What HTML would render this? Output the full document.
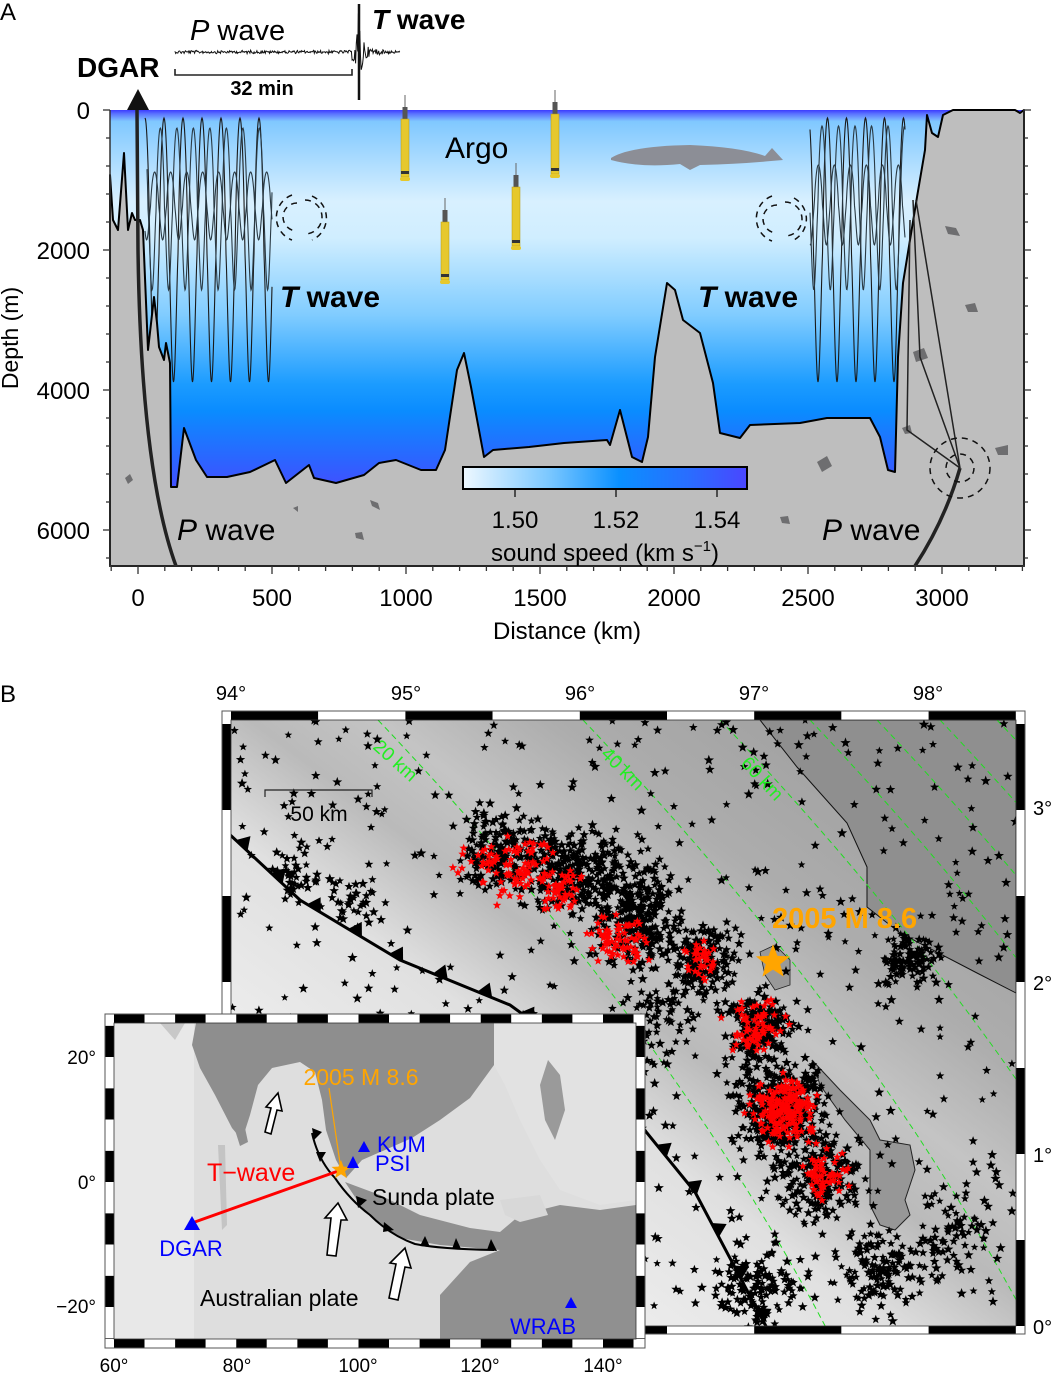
<!DOCTYPE html>
<html><head><meta charset="utf-8"><style>
html,body{margin:0;padding:0;background:#fff;}
svg{display:block;font-family:"Liberation Sans",sans-serif;}
</style></head><body>
<svg id="s" width="1052" height="1374" viewBox="0 0 1052 1374" xmlns="http://www.w3.org/2000/svg">
<defs>
<linearGradient id="wg" gradientUnits="userSpaceOnUse" x1="0" y1="110" x2="0" y2="566">
<stop offset="0" stop-color="#3b3bff"/><stop offset="0.008" stop-color="#5a70ff"/>
<stop offset="0.025" stop-color="#80c8ff"/><stop offset="0.2" stop-color="#d8f0ff"/>
<stop offset="0.28" stop-color="#d0eeff"/><stop offset="0.45" stop-color="#80ccff"/>
<stop offset="0.6" stop-color="#1c9cff"/><stop offset="0.66" stop-color="#0a8cff"/>
<stop offset="0.78" stop-color="#3060ff"/><stop offset="0.85" stop-color="#4a48ff"/>
<stop offset="1" stop-color="#4a48ff"/></linearGradient>
<linearGradient id="cb" x1="0" x2="1" y1="0" y2="0">
<stop offset="0" stop-color="#eef8ff"/><stop offset="0.3" stop-color="#7cc8ff"/>
<stop offset="0.55" stop-color="#0a90ff"/><stop offset="0.8" stop-color="#2a6cff"/>
<stop offset="1" stop-color="#4a46ff"/></linearGradient>
<linearGradient id="mg" gradientUnits="userSpaceOnUse" x1="310" y1="1080" x2="670" y2="600">
<stop offset="0" stop-color="#ececec"/><stop offset="0.25" stop-color="#e0e0e0"/>
<stop offset="0.42" stop-color="#bababa"/><stop offset="0.55" stop-color="#c4c4c4"/>
<stop offset="0.72" stop-color="#adadad"/><stop offset="1" stop-color="#a0a0a0"/></linearGradient>
<clipPath id="mc"><rect x="231" y="720" width="785" height="606"/></clipPath>
<clipPath id="ic"><rect x="114" y="1023" width="522" height="316"/></clipPath>
</defs>

<!-- PANEL A -->
<text x="0" y="20" font-size="24">A</text>
<rect x="110" y="110" width="914" height="456" fill="url(#wg)"/>
<g id="rays" fill="none" stroke="#1a1a1a" stroke-width="1.1"></g>
<path d="M110,566 L110,175 L113,220 L118,230 L124,153 L128,230 L132,213 L135,220 L140,220 L143,230 L148,350 L154,297 L157,323 L159,347 L164,360 L166,343 L170,363 L171,487 L177,487 L184,428 L196,460 L207,477 L227,477 L250,472 L275,460 L286,483 L309,465 L314,478 L336,483 L364,475 L379,463 L396,460 L421,470 L436,470 L445,450 L457,370 L464,353 L471,387 L484,457 L493,450 L529,447 L564,443 L607,440 L610,445 L620,410 L632,457 L642,462 L648,437 L655,357 L667,283 L675,290 L683,320 L700,333 L713,383 L720,433 L740,438 L750,425 L800,423 L827,418 L870,418 L880,437 L888,470 L895,472 L898,357 L903,283 L910,240 L917,197 L925,150 L927,115 L932,133 L938,137 L943,115 L953,110 L1015,110 L1020,113 L1024,110 L1024,566 Z" fill="#bebebe" stroke="#000" stroke-width="2" stroke-linejoin="round"/>
<g fill="#6e6e70">
<polygon points="125,478 130,474 133,480 128,484"/><polygon points="355,533 362,532 364,540 356,538"/>
<polygon points="370,500 378,503 380,510 372,506"/><polygon points="293,508 298,506 298,512"/>
<polygon points="945,226 956,228 960,236 948,234"/><polygon points="965,305 975,303 978,312 968,312"/>
<polygon points="913,352 924,348 928,358 916,362"/>
<polygon points="817,462 827,456 832,466 822,472"/><polygon points="995,448 1008,445 1008,455 998,455"/>
<polygon points="780,517 788,516 790,524 782,523"/><polygon points="902,428 910,425 912,433 905,434"/>
</g>
<path d="M137,110 L138,250 Q141,470 176,566" fill="none" stroke="#222" stroke-width="3.5"/>
<path d="M915,566 Q945,520 960,468" fill="none" stroke="#222" stroke-width="3.5"/>
<g fill="none" stroke="#222" stroke-width="1.5">
<path d="M960,468 L920,357 L913,200"/><path d="M960,468 L907,430 L910,220"/><path d="M960,468 L916,200"/>
</g>
<g fill="none" stroke="#111" stroke-width="1.5" stroke-dasharray="6,5">
<circle cx="960" cy="468" r="14"/><circle cx="960" cy="468" r="30"/>
<path d="M297,203 A14,14 0 0,0 297,231"/><path d="M305,200 A17,17 0 0,1 305,234"/>
<path d="M292,195 A24,24 0 0,0 292,240"/><path d="M312,196 A24,24 0 0,1 312,240"/>
<path d="M777,205 A14,14 0 0,0 777,233"/><path d="M785,202 A17,17 0 0,1 785,236"/>
<path d="M772,196 A24,24 0 0,0 772,241"/><path d="M794,198 A24,24 0 0,1 794,240"/>
</g>
<g stroke="#333" stroke-width="1.5" fill="none">
<line x1="110" y1="110" x2="110" y2="567"/><line x1="1024" y1="110" x2="1024" y2="567"/>
<line x1="109" y1="566" x2="1025" y2="566"/>
</g>
<g id="ticks" stroke="#333" stroke-width="1.3"></g>
<g font-size="24" text-anchor="end">
<text x="90" y="119">0</text><text x="90" y="259">2000</text><text x="90" y="399">4000</text><text x="90" y="539">6000</text>
</g>
<text transform="translate(18,338) rotate(-90)" font-size="23" text-anchor="middle">Depth (m)</text>
<g font-size="24" text-anchor="middle">
<text x="138" y="606">0</text><text x="272" y="606">500</text><text x="406" y="606">1000</text><text x="540" y="606">1500</text>
<text x="674" y="606">2000</text><text x="808" y="606">2500</text><text x="942" y="606">3000</text>
</g>
<text x="567" y="639" font-size="24" text-anchor="middle">Distance (km)</text>
<rect x="463" y="467" width="284" height="22" fill="url(#cb)" stroke="#000" stroke-width="2"/>
<g stroke="#000" stroke-width="1.2"><line x1="515" y1="490" x2="515" y2="497"/><line x1="616" y1="490" x2="616" y2="497"/><line x1="717" y1="490" x2="717" y2="497"/></g>
<g font-size="24" text-anchor="middle"><text x="515" y="528">1.50</text><text x="616" y="528">1.52</text><text x="717" y="528">1.54</text></g>
<text x="605" y="561" font-size="24" text-anchor="middle">sound speed (km s<tspan font-size="15" dy="-10">−1</tspan><tspan dy="10">)</tspan></text>
<g font-size="30">
<text x="177" y="540"><tspan font-style="italic">P</tspan> wave</text>
<text x="822" y="540"><tspan font-style="italic">P</tspan> wave</text>
<text x="280" y="307" font-weight="bold"><tspan font-style="italic">T</tspan> wave</text>
<text x="698" y="307" font-weight="bold"><tspan font-style="italic">T</tspan> wave</text>
</g>
<text x="445" y="158" font-size="30">Argo</text>
<path d="M611,158 Q630,146 690,145 Q740,147 765,156 L772,148 L783,160 L771,161 Q740,164 700,165 L690,170 L680,164 Q640,168 611,160 Z" fill="#8c8e96"/>
<g id="argo"></g>
<text x="190" y="40" font-size="29"><tspan font-style="italic">P</tspan> wave</text>
<text x="372" y="29" font-size="28" font-weight="bold"><tspan font-style="italic">T</tspan> wave</text>
<text x="77" y="77" font-size="28" font-weight="bold">DGAR</text>
<path id="seis" fill="none" stroke="#111" stroke-width="1"/>
<path d="M175,69 L175,75 L352,75 L352,69" fill="none" stroke="#222" stroke-width="1.6"/>
<text x="262" y="95" font-size="20" font-weight="bold" text-anchor="middle">32 min</text>
<polygon points="138,89 127,110 149,110" fill="#111"/>

<!-- PANEL B -->
<text x="0" y="702" font-size="24">B</text>
<rect x="222" y="711" width="803" height="623" fill="#fff" stroke="#777" stroke-width="1"/>
<rect x="231" y="720" width="785" height="606" fill="url(#mg)"/>
<g clip-path="url(#mc)">
<path d="M760,720 L797,767 L847,823 L867,867 L867,907 L900,933 L977,973 L1016,993 L1016,720 Z" fill="#8f8f8f" stroke="#111" stroke-width="1"/>
<path d="M812,1060 L840,1090 L870,1120 L880,1140 L910,1145 L915,1170 L905,1200 L910,1215 L895,1230 L880,1225 L870,1205 L870,1150 L845,1120 L820,1085 Z" fill="#979797" stroke="#222" stroke-width="1"/>
<path d="M760,952 L775,945 L790,960 L790,985 L775,990 L765,975 Z" fill="#999" stroke="#222" stroke-width="0.8"/>
<g id="contours" fill="none" stroke="#22dd22" stroke-width="1" stroke-dasharray="6,4"></g>
<path id="trench" d="M227,832 L300,900 L400,960 L510,1005 L600,1070 L647,1133 L695,1192 L768,1330" fill="none" stroke="#000" stroke-width="3"/>
<g id="teeth" fill="#000"></g>
<g id="stars"></g>
</g>
<g fill="#22ee22" font-size="19">
<text transform="translate(372,748) rotate(42)">20 km</text>
<text transform="translate(600,755) rotate(45)">40 km</text>
<text transform="translate(740,764) rotate(47)">60 km</text>
</g>
<path d="M265,797 L265,790 L372,790 L372,797" fill="none" stroke="#222" stroke-width="1.2"/>
<text x="319" y="821" font-size="21" text-anchor="middle">50 km</text>
<polygon id="bigstar" fill="#ffa500"/>
<text x="772" y="928" font-size="29" font-weight="bold" fill="#ffa500">2005 M 8.6</text>
<g id="mframe"></g>
<g font-size="20" text-anchor="middle">
<text x="231" y="700">94°</text><text x="406" y="700">95°</text><text x="580" y="700">96°</text><text x="754" y="700">97°</text><text x="928" y="700">98°</text>
</g>
<g font-size="20">
<text x="1033" y="815">3°</text><text x="1033" y="990">2°</text><text x="1033" y="1162">1°</text><text x="1033" y="1334">0°</text>
</g>

<!-- INSET -->
<rect x="105" y="1014" width="540" height="334" fill="#fff" stroke="#666" stroke-width="1"/>
<g clip-path="url(#ic)">
<rect x="114" y="1023" width="522" height="316" fill="#dedede"/>
<rect x="114" y="1023" width="80" height="316" fill="#e8e8e8"/>
<path d="M150,1023 L196,1023 L192,1045 L200,1068 L215,1095 L232,1128 L242,1140 L250,1115 L258,1085 L272,1068 L300,1062 L315,1072 L322,1100 L326,1130 L336,1160 L346,1178 L362,1160 L385,1150 L412,1138 L440,1120 L470,1098 L494,1065 L494,1023 Z" fill="#8e8e8e"/>
<path d="M160,1023 L185,1023 L175,1040 Z" fill="#c8c8c8"/>
<path d="M235,1130 L245,1128 L248,1142 L240,1146 Z" fill="#8e8e8e"/>
<path d="M494,1023 L636,1023 L636,1200 L600,1205 L560,1190 L540,1160 L520,1120 L505,1085 L494,1065 Z" fill="#e2e2e2"/>
<path d="M548,1060 L560,1075 L565,1110 L555,1140 L545,1120 L540,1085 Z" fill="#9a9a9a"/>
<path d="M345,1182 L380,1195 L420,1215 L470,1228 L500,1232 L520,1215 L560,1205 L600,1210 L636,1205 L636,1339 L440,1339 L440,1295 L470,1262 L500,1250 L440,1245 L400,1238 L365,1212 Z" fill="#909090"/>
<path d="M500,1200 L540,1195 L548,1215 L520,1222 L505,1215 Z" fill="#d8d8d8"/>
<path d="M218,1145 L225,1145 L227,1225 L222,1230 Z" fill="#c4c4c4"/>
</g>
<g id="iframe"></g>
<path d="M312,1133 Q318,1160 335,1178 Q350,1200 370,1215 Q390,1235 415,1244 Q440,1249 494,1250" fill="none" stroke="#000" stroke-width="2"/>
<g fill="#000">
<polygon points="312,1128 322,1132 314,1140"/><polygon points="316,1152 326,1152 320,1162"/>
<polygon points="356,1196 367,1200 358,1208"/><polygon points="384,1222 394,1230 383,1232"/>
<polygon points="420,1246 425,1236 430,1247"/><polygon points="452,1249 456,1238 461,1249"/>
<polygon points="487,1250 491,1239 497,1251"/>
</g>
<line x1="329" y1="1088" x2="341" y2="1170" stroke="#ffa500" stroke-width="1.2"/>
<line x1="192" y1="1223" x2="341" y2="1170" stroke="#ff0000" stroke-width="3"/>
<polygon id="istar" fill="#ffa500"/>
<g fill="none" stroke="#000" stroke-width="1.6">
<path d="M265,1132 L271,1108 L266,1107 L278,1093 L282,1111 L277,1110 L271,1134 Z" fill="#fff"/>
<path d="M327,1255 L331,1218 L325,1218 L338,1203 L347,1220 L341,1220 L336,1256 Z" fill="#fff"/>
<path d="M389,1298 L396,1264 L390,1263 L405,1248 L411,1268 L405,1267 L398,1300 Z" fill="#fff"/>
</g>
<g fill="#0000ff">
<polygon points="192,1216 184,1230 200,1230"/><polygon points="364,1141 358,1152 370,1152"/>
<polygon points="353,1156 347,1168 359,1168"/><polygon points="571,1297 565,1308 577,1308"/>
</g>
<g font-size="22" fill="#0000ff">
<text x="377" y="1152">KUM</text><text x="375" y="1171">PSI</text>
<text x="191" y="1256" text-anchor="middle">DGAR</text><text x="543" y="1334" text-anchor="middle">WRAB</text>
</g>
<text x="361" y="1085" font-size="23" fill="#ffa500" text-anchor="middle">2005 M 8.6</text>
<text x="207" y="1181" font-size="25" fill="#ff0000">T−wave</text>
<text x="372" y="1205" font-size="23">Sunda plate</text>
<text x="200" y="1306" font-size="23">Australian plate</text>
<g font-size="19" text-anchor="middle">
<text x="114" y="1372">60°</text><text x="237" y="1372">80°</text><text x="358" y="1372">100°</text><text x="480" y="1372">120°</text><text x="603" y="1372">140°</text>
</g>
<g font-size="19" text-anchor="end">
<text x="96" y="1064">20°</text><text x="96" y="1189">0°</text><text x="96" y="1313">−20°</text>
</g>
</svg>
<script>
(function(){
var NS="http://www.w3.org/2000/svg";
function el(t,a,p){var e=document.createElementNS(NS,t);for(var k in a)e.setAttribute(k,a[k]);(p||document.getElementById('s')).appendChild(e);return e;}
var seed=12345;function rnd(){seed=(seed*1103515245+12345)%2147483648;return seed/2147483648;}
function gauss(){return (rnd()+rnd()+rnd()+rnd()-2)/1.15;}
function starPts(cx,cy,r){var s="";for(var i=0;i<10;i++){var a=-Math.PI/2+i*Math.PI/5;var rr=i%2?r*0.42:r;s+=(cx+rr*Math.cos(a)).toFixed(1)+","+(cy+rr*Math.sin(a)).toFixed(1)+" ";}return s;}
var rg=document.getElementById('rays');
function ray(x0,x1,top,bot,P,ph,col){var d="";for(var x=x0;x<=x1;x+=0.5){var t=(x-x0)/P*2*Math.PI+ph;var c=Math.cos(t);var y=(top+bot)/2-(bot-top)/2*(c>0?Math.pow(c,0.7):-Math.pow(-c,1.4));d+=(x===x0?"M":"L")+x.toFixed(1)+","+y.toFixed(1);}el('path',{d:d,stroke:col||"#1a1a1a"},rg);}
ray(145,272,118,382,19,0);ray(147,272,128,290,16.5,1.2,"#2a3a44");ray(145,272,172,240,16,2.5,"#2a3a44");
ray(810,905,118,382,19,0.5);ray(810,905,126,290,16.5,1.7,"#2a3a44");ray(810,905,165,245,16,3,"#2a3a44");
var tg=document.getElementById('ticks');
for(var d=0;d<=6400;d+=400){var y=110+d*0.07;var L=(d%2000==0)?7:4;el('line',{x1:110-L,y1:y,x2:110,y2:y},tg);el('line',{x1:1024,y1:y,x2:1024+L,y2:y},tg);}
for(var k=-100;k<=3300;k+=100){var x=138+k*0.268;var L=(k%500==0)?8:5;el('line',{x1:x,y1:566,x2:x,y2:566+L},tg);}
var ag=document.getElementById('argo');
[[405,95,181],[555,90,178],[445,198,284],[516,163,250]].forEach(function(f){var c=f[0],t=f[1],b=f[2];
el('line',{x1:c,y1:t,x2:c,y2:t+12,stroke:"#666","stroke-width":1},ag);
el('rect',{x:c-2.5,y:t+12,width:5,height:12,fill:"#555"},ag);
el('rect',{x:c-4,y:t+24,width:8,height:b-t-28,fill:"#e6c82c",stroke:"#b89a10","stroke-width":0.5},ag);
el('rect',{x:c-4,y:b-10,width:8,height:3,fill:"#333"},ag);
el('rect',{x:c-5,y:b-4,width:10,height:4,rx:2,fill:"#e6c82c"},ag);});
var sd="M175,52";for(var x=175;x<=400;x+=0.7){var a=0.8+rnd()*1.2;if(x>352&&x<372){var e=Math.exp(-Math.abs(x-359)/3.5);a=2+46*e;}else if(x>=372){a=1.2+4*Math.exp(-(x-372)/8);}sd+=" L"+x.toFixed(1)+","+(52+(rnd()-0.5)*2*a).toFixed(1);}
document.getElementById('seis').setAttribute('d',sd);
el('line',{x1:359,y1:4,x2:359,y2:100,stroke:"#111","stroke-width":2.5});
var cg=document.getElementById('contours');
[378,583,720,810,877,940,997].forEach(function(x0){var d="";for(var y=720;y<=1330;y+=5){var t=y-720;var x=x0+0.95*t-0.00035*t*t;d+=(y==720?"M":"L")+x.toFixed(1)+","+y;}el('path',{d:d},cg);});
var tp=[[227,832],[300,900],[400,960],[510,1005],[600,1070],[647,1133],[695,1192],[768,1330]];
var th=document.getElementById('teeth');
var segs=[],tot=0;for(var i=0;i<tp.length-1;i++){var dx=tp[i+1][0]-tp[i][0],dy=tp[i+1][1]-tp[i][1],l=Math.hypot(dx,dy);segs.push([tp[i],dx/l,dy/l,l]);tot+=l;}
for(var s=20;s<tot;s+=48){var acc=0;for(var j=0;j<segs.length;j++){if(s<acc+segs[j][3]){var r=s-acc,p=segs[j][0],ux=segs[j][1],uy=segs[j][2];var px=p[0]+ux*r,py=p[1]+uy*r;var nx=uy,ny=-ux;
el('polygon',{points:(px-ux*8)+","+(py-uy*8)+" "+(px+ux*8)+","+(py+uy*8)+" "+(px+nx*13)+","+(py+ny*13)},th);break;}acc+=segs[j][3];}}
var sg=document.getElementById('stars');var bl=[],rd=[];
for(var i=0;i<650;i++)bl.push([231+rnd()*785,720+rnd()*606]);
var cl=[[300,870,40,30],[350,900,30,25],[500,850,160,40],[570,870,220,45],[640,920,220,40],[700,960,170,35],[760,1030,180,35],[780,1110,350,45],[820,1180,180,40],[880,1270,120,45],[910,960,90,25],[620,880,80,50],[760,1290,120,40],[660,1010,60,40],[950,1240,60,40]];
cl.forEach(function(c){for(var i=0;i<c[2];i++)bl.push([c[0]+gauss()*c[3],c[1]+gauss()*c[3]]);});
var rc=[[520,870,70,30],[560,890,50,20],[620,940,70,25],[700,960,35,20],[755,1030,70,25],[785,1110,200,30],[825,1175,60,20],[480,860,20,25]];
rc.forEach(function(c){for(var i=0;i<c[2];i++)rd.push([c[0]+gauss()*c[3],c[1]+gauss()*c[3]]);});
bl.forEach(function(p){el('polygon',{points:starPts(p[0],p[1],4+rnd()*1.5),fill:"#000"},sg);});
rd.forEach(function(p){el('polygon',{points:starPts(p[0],p[1],4.5),fill:"#ff0000"},sg);});
document.getElementById('bigstar').setAttribute('points',starPts(773,962,18));
document.getElementById('istar').setAttribute('points',starPts(341,1170,10));
var mf=document.getElementById('mframe');
function seg(g,x,y,w,h,blk){el('rect',{x:x,y:y,width:w,height:h,fill:blk?"#000":"#fff"},g);}
for(var k=188;k<197;k++){var xa=231+(k/2-94)*174.4,xb=Math.min(1016,xa+87.2);seg(mf,xa,711,xb-xa,9,k%2==0);seg(mf,xa,1326,xb-xa,8,k%2==0);}
for(var k=0;k<8;k++){var yb=1326-k*86,ya=Math.max(720,yb-86);var blk=(k%2==0);seg(mf,222,ya,9,yb-ya,blk);seg(mf,1016,ya,9,yb-ya,blk);}
el('rect',{x:222,y:711,width:803,height:623,fill:"none",stroke:"#555","stroke-width":1},mf);
el('rect',{x:231,y:720,width:785,height:606,fill:"none",stroke:"#333","stroke-width":0.8},mf);
var fi=document.getElementById('iframe');
for(var lon=60;lon<146;lon+=5){var xa=114+(lon-60)*6.1125,xb=Math.min(636,xa+30.56);if(xa>=636)break;var blk=((lon/5)%2==0);seg(fi,xa,1014,xb-xa,9,blk);seg(fi,xa,1339,xb-xa,9,blk);}
for(var lat=-30;lat<30;lat+=5){var yb=1182-lat*6.25,ya=yb-31.25;ya=Math.max(1023,ya);yb=Math.min(1339,yb);if(yb<=ya)continue;var blk=(((lat/5)%2+2)%2==0);seg(fi,105,ya,9,yb-ya,blk);seg(fi,636,ya,9,yb-ya,blk);}
el('rect',{x:105,y:1014,width:540,height:334,fill:"none",stroke:"#555","stroke-width":1},fi);
el('rect',{x:114,y:1023,width:522,height:316,fill:"none",stroke:"#333","stroke-width":0.8},fi);
})();
</script>
</body></html>
